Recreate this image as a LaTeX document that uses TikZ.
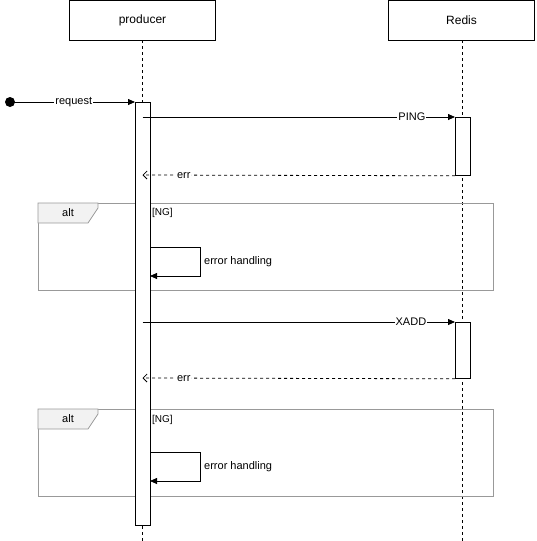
\documentclass[tikz,border=0pt]{standalone}
\usepackage{fontspec}
\setmainfont{Liberation Sans}
\usetikzlibrary{arrows.meta}
\definecolor{framegray}{HTML}{999999}
\definecolor{tabfill}{HTML}{F2F2F2}
\begin{document}
\begin{tikzpicture}[x=1pt,y=-1pt,
  headbox/.style={draw, fill=white, line width=0.8pt, minimum width=146pt, minimum height=39.5pt, inner sep=0pt, font=\fontsize{12}{14}\selectfont},
  lifeline/.style={line width=0.7pt, dash pattern=on 3pt off 3pt},
  actbar/.style={draw, fill=white, line width=0.8pt, minimum width=15pt, inner sep=0pt, anchor=north west},
  msg/.style={line width=0.8pt, -{Triangle[length=7pt,width=6pt]}},
  retmsg/.style={line width=0.8pt, dash pattern=on 3pt off 3pt, -{Straight Barb[length=4pt,width=8pt]}},
  lbl/.style={fill=white, inner sep=1pt, font=\fontsize{11}{13}\selectfont},
  frameline/.style={draw=framegray, line width=0.8pt},
  tabshape/.style={draw=framegray, fill=tabfill, line width=0.8pt},
  plain/.style={inner sep=0pt, font=\fontsize{11}{13}\selectfont},
  guard/.style={inner sep=0pt, anchor=west, font=\fontsize{10}{12}\selectfont}
]
\useasboundingbox (0,0) rectangle (536,541);

% heads
\node[headbox] (prod) at (142.5,20.25) {producer};
\node[headbox] (redis) at (461.5,20.25) {Redis};

% lifelines
\coordinate (prodEnd) at (142.5,541);
\coordinate (redisEnd) at (462.5,541);
\draw[lifeline] (prod.south) -- (prodEnd);
\draw[lifeline] (redis.south -| redisEnd) -- (redisEnd);

% alt frames
\draw[frameline] (38,203) rectangle (493,290);
\draw[tabshape] (38,203) -- (98,203) -- (98,208) -- (88,223) -- (38,223) -- cycle;
\node[plain] (alt1) at (68,213) {alt};
\draw[frameline] (38,409) rectangle (493,496);
\draw[tabshape] (38,409) -- (98,409) -- (98,414) -- (88,429) -- (38,429) -- cycle;
\node[plain] (alt2) at (68,419) {alt};

% activation bars
\node[actbar, minimum height=423pt] (pa) at (135,102) {};
\node[actbar, minimum height=58pt] (ra1) at (455,117) {};
\node[actbar, minimum height=56pt] (ra2) at (455,322) {};

% request
\coordinate (start) at (10,102);
\fill (start) circle (5pt);
\draw[msg] (start) -- (pa.north west) node[lbl, pos=0.51] {request};

% PING
\coordinate (p1) at (142.5,117);
\draw[msg] (p1) -- (ra1.north west) node[lbl, pos=0.862] {PING};
% err 1
\coordinate (r1) at (142.5,175);
\draw[retmsg] (ra1.south west) -- (r1) node[lbl, pos=0.868] {err};

% self message 1
\coordinate (s1a) at (150,247);
\coordinate (s1b) at (200.5,247);
\coordinate (s1c) at (200.5,276);
\coordinate (s1d) at (150,276);
\draw[msg] (s1a) -- (s1b) -- (s1c) -- (s1d);
\node[guard] (ng1) at (152,213) {[NG]};
\node[guard, font=\fontsize{11}{13}\selectfont] (eh1) at (204,261.5) {error handling};

% XADD
\coordinate (p2) at (142.5,322);
\draw[msg] (p2) -- (ra2.north west) node[lbl, pos=0.859] {XADD};
% err 2
\coordinate (r2) at (142.5,378);
\draw[retmsg] (ra2.south west) -- (r2) node[lbl, pos=0.868] {err};

% self message 2
\coordinate (s2a) at (150,452);
\coordinate (s2b) at (200.5,452);
\coordinate (s2c) at (200.5,481);
\coordinate (s2d) at (150,481);
\draw[msg] (s2a) -- (s2b) -- (s2c) -- (s2d);
\node[guard] (ng2) at (152,420) {[NG]};
\node[guard, font=\fontsize{11}{13}\selectfont] (eh2) at (204,466.5) {error handling};
\end{tikzpicture}
\end{document}
